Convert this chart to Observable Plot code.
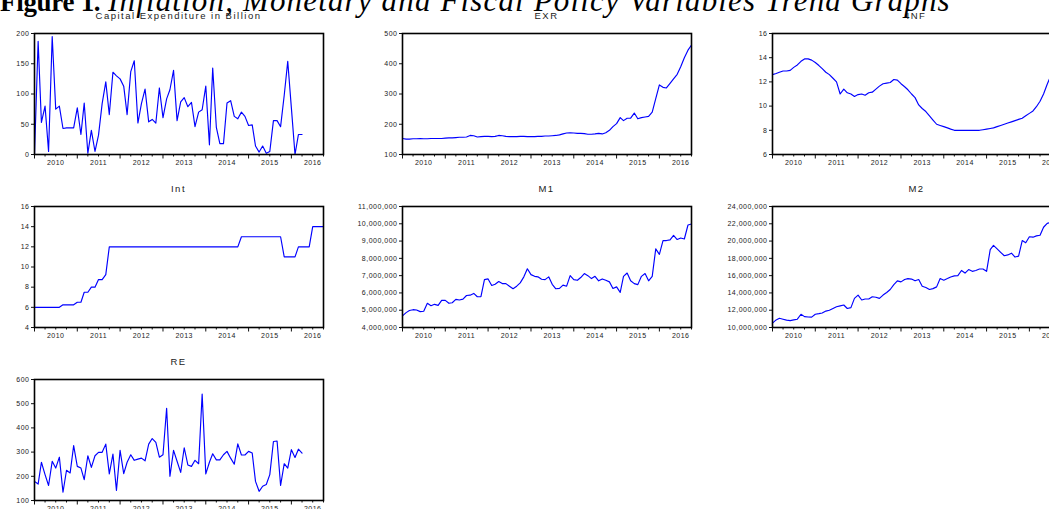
<!DOCTYPE html>
<html><head><meta charset="utf-8">
<script src="https://cdn.jsdelivr.net/npm/d3@7"></script>
<script src="https://cdn.jsdelivr.net/npm/@observablehq/plot@0.6"></script>
<style>
body{margin:0;background:#fff;}
#wrap{position:relative;width:1049px;height:509px;overflow:hidden;background:#fff;}
#title{position:absolute;left:0;top:-15px;font-family:"Liberation Serif","Times New Roman",serif;font-size:31px;line-height:31px;white-space:nowrap;color:#000;}
#title b{font-size:27px;letter-spacing:-0.3px;}
#title i{letter-spacing:1.15px;}
.ptitle{position:absolute;font-family:"Liberation Sans",Arial,sans-serif;font-size:9.5px;line-height:10px;letter-spacing:1.5px;color:#222;text-align:center;white-space:nowrap;}
.panel{position:absolute;}
</style></head><body>
<div id="wrap"><div id="title"><b>Figure 1.</b> <i>Inflation, Monetary and Fiscal Policy Variables Trend Graphs</i></div></div>
<script>
// monthly observations starting January 2010
const startYear = 2010, startMonth = 0;
const yearLabels = [2010, 2011, 2012, 2013, 2014, 2015, 2016];

const capex = [0,187,53,80,5,195,75,80,43,44,
  44,44,77,33,85,2,40,5,32,84,
  120,66,136,130,125,113,66,137,155,52,
  84,108,54,58,52,110,61,92,107,139,
  56,87,94,79,86,46,70,74,113,16,
  143,45,18,18,85,89,63,59,70,63,
  48,49,14,4,14,2,5,56,56,46,
  98,154,77,0,33,33];

const exr = [153,151,151,152,152,153,152,152,153,153,153,153,
  154,155,155,156,157,157,158,163,162,158,159,160,
  160,159,160,163,162,160,159,159,159,160,160,159,
  159,159,160,160,161,161,162,163,165,168,171,172,
  171,170,170,169,167,167,168,170,168,172,180,192,
  202,222,212,220,220,237,218,222,224,226,240,285,
  330,322,320,335,350,365,390,420,445,462];

const inf = [12.6,12.7,12.8,12.9,12.9,12.95,13.2,13.4,13.7,13.9,13.9,13.8,
  13.6,13.35,13.1,12.8,12.6,12.3,12.0,11.0,11.4,11.1,11.0,10.8,
  10.95,11.0,10.9,11.1,11.15,11.4,11.65,11.85,11.9,11.95,12.2,12.15,
  11.85,11.6,11.35,11.0,10.7,10.1,9.8,9.55,9.2,8.85,8.5,8.4,
  8.3,8.2,8.1,8.0,8.0,8.0,8.0,8.0,8.0,8.0,8.0,8.05,
  8.1,8.15,8.2,8.3,8.4,8.5,8.6,8.7,8.8,8.9,9.0,9.2,
  9.4,9.6,9.95,10.4,11.0,11.8,12.5,13.1,13.6,14.0];

const intRate = [6,6,6,6,6,6,6,6,6.25,6.25,6.25,6.25,
  6.5,6.5,7.5,7.5,8,8,8.75,8.75,9.25,12,12,12,
  12,12,12,12,12,12,12,12,12,12,12,12,
  12,12,12,12,12,12,12,12,12,12,12,12,
  12,12,12,12,12,12,12,12,12,12,13,13,
  13,13,13,13,13,13,13,13,13,13,11,11,
  11,11,12,12,12,12,14,14,14,14];

// millions
const m1 = [4.67,4.86,4.98,5.03,5.01,4.92,4.94,5.40,5.26,5.34,5.28,5.57,
  5.57,5.40,5.43,5.63,5.59,5.64,5.85,5.87,5.97,5.78,5.78,6.77,
  6.81,6.43,6.50,6.66,6.54,6.54,6.39,6.24,6.39,6.58,6.93,7.40,
  7.06,6.96,6.93,6.79,6.77,6.93,6.50,6.24,6.26,6.45,6.39,7.00,
  6.77,6.73,6.89,7.12,7.00,6.83,6.96,6.70,6.81,6.73,6.64,6.26,
  6.35,6.03,6.96,7.15,6.70,6.54,6.48,6.96,7.12,6.70,6.96,8.55,
  8.23,9.03,9.03,9.07,9.33,9.09,9.18,9.12,9.93,9.99];

const m2 = [10.5,10.88,11.07,10.96,10.85,10.8,10.88,10.96,11.53,11.26,
  11.22,11.2,11.53,11.6,11.68,11.9,12.0,12.2,12.4,12.5,
  12.6,12.2,12.3,13.37,13.75,13.18,13.3,13.3,13.56,13.5,
  13.37,13.75,14.05,14.4,14.97,15.4,15.28,15.55,15.66,15.6,
  15.4,15.55,14.78,14.63,14.4,14.5,14.7,15.66,15.47,15.66,
  15.85,15.97,16.0,16.6,16.3,16.7,16.5,16.6,16.77,16.77,
  16.5,19.0,19.5,19.1,18.7,18.3,18.4,18.6,18.15,18.26,
  20.06,19.8,20.5,20.45,20.6,20.67,21.6,22.05,22.16,22.4,22.7,23.0];

const re = [179,168,258,207,162,262,234,279,134,225,
  214,327,241,234,186,285,237,285,299,299,
  333,210,292,142,307,211,258,289,266,271,
  275,264,333,356,340,279,289,481,200,307,
  262,216,318,247,241,266,252,540,210,258,
  293,268,268,289,303,275,250,334,288,288,
  303,296,179,138,159,166,207,344,346,162,
  252,234,310,278,312,296];

const panels = [
  {title: "Capital Expenditure in Billion", values: capex, scale: 1, domain: [0, 200], ticks: [0,50,100,150,200], fmt: d3.format("d"), col: 0, row: 0},
  {title: "EXR", values: exr, scale: 1, domain: [100, 500], ticks: [100,200,300,400,500], fmt: d3.format("d"), col: 1, row: 0},
  {title: "INF", values: inf, scale: 1, domain: [6, 16], ticks: [6,8,10,12,14,16], fmt: d3.format("d"), col: 2, row: 0},
  {title: "Int", values: intRate, scale: 1, domain: [4, 16], ticks: [4,6,8,10,12,14,16], fmt: d3.format("d"), col: 0, row: 1},
  {title: "M1", values: m1, scale: 1e6, domain: [4e6, 11e6], ticks: [4e6,5e6,6e6,7e6,8e6,9e6,10e6,11e6], fmt: d3.format(","), col: 1, row: 1},
  {title: "M2", values: m2, scale: 1e6, domain: [10e6, 24e6], ticks: [10e6,12e6,14e6,16e6,18e6,20e6,22e6,24e6], fmt: d3.format(","), col: 2, row: 1},
  {title: "RE", values: re, scale: 1, domain: [100, 600], ticks: [100,200,300,400,500,600], fmt: d3.format("d"), col: 0, row: 2}
];

const colX = [34, 402, 772], rowY = [33, 206, 379];
const fw = 289, fh = 121;
const mL = 70, mR = 6, mT = 4, mB = 22;

const xDomain = [new Date(Date.UTC(2010, 0, 1)), new Date(Date.UTC(2016, 9, 1))];
const yearTicks = yearLabels.map(y => new Date(Date.UTC(y, 0, 1)));
const quarterTicks = yearLabels.flatMap(y => [3, 6, 9].map(m => new Date(Date.UTC(y, m, 1)))).filter(d => d <= xDomain[1]);
const labelTicks = yearLabels.map(y => new Date(Date.UTC(y, 6, 1)));

const wrap = document.getElementById("wrap");
for (const p of panels) {
  const data = p.values.map((v, i) => ({date: new Date(Date.UTC(startYear, startMonth + i, 1)), v: v * p.scale}));
  const left = colX[p.col], top = rowY[p.row];
  const svg = Plot.plot({
    width: mL + fw + mR, height: mT + fh + mB,
    marginLeft: mL, marginRight: mR, marginTop: mT, marginBottom: mB,
    style: {fontFamily: "Liberation Sans, Arial, sans-serif", fontSize: "7px", letterSpacing: "0.5px", color: "#222", background: "transparent", overflow: "visible"},
    x: {type: "utc", domain: xDomain},
    y: {domain: p.domain},
    marks: [
      Plot.axisX(quarterTicks, {tickSize: 2.5, tickFormat: () => "", label: null, stroke: "#111"}),
      Plot.axisX(yearTicks, {tickSize: 4.5, tickFormat: () => "", label: null, stroke: "#111"}),
      Plot.axisX(labelTicks, {tickSize: 0, tickPadding: 6, tickFormat: d3.utcFormat("%Y"), label: null}),
      Plot.axisY(p.ticks, {tickSize: 3, tickPadding: 2, tickFormat: p.fmt, label: null, stroke: "#111"}),
      Plot.lineY(data, {x: "date", y: "v", stroke: "#0000ff", strokeWidth: 1.15}),
      Plot.frame({stroke: "#000", strokeWidth: 1.6})
    ]
  });
  svg.classList.add("panel");
  svg.style.left = (left - mL) + "px";
  svg.style.top = (top - mT) + "px";
  wrap.appendChild(svg);
  const t = document.createElement("div");
  t.className = "ptitle";
  t.textContent = p.title;
  t.style.left = left + "px";
  t.style.width = fw + "px";
  t.style.top = (top - 22) + "px";
  wrap.appendChild(t);
}
</script>
</body></html>
